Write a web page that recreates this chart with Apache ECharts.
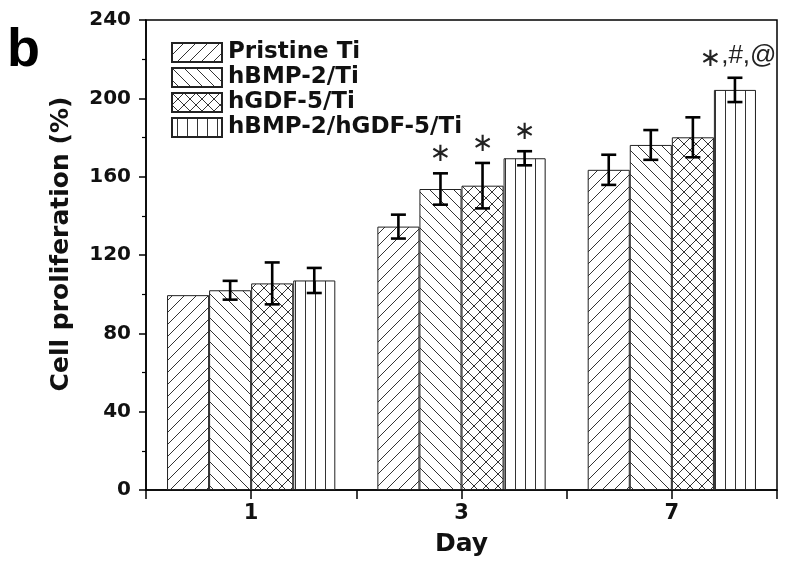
<!DOCTYPE html>
<html>
<head>
<meta charset="utf-8">
<script src="https://cdn.jsdelivr.net/npm/echarts@6/dist/echarts.min.js"></script>
<style>html,body{margin:0;padding:0;background:#fff}#c{width:786px;height:568px}</style>
</head>
<body>
<div id="c"></div>
<script>
// ---- data ----
const days = ['1', '3', '7'];
const groups = ['Pristine Ti', 'hBMP-2/Ti', 'hGDF-5/Ti', 'hBMP-2/hGDF-5/Ti'];
const pristine = [99.5, 134.5, 163.5];
const hbmp = [102, 153.7, 176.2];
const hgdf = [105.5, 155.4, 180.1];
const combo = [107, 169.4, 204.3];
const pristineErr = [0, 6.1, 7.7];
const hbmpErr = [4.8, 8.0, 7.6];
const hgdfErr = [10.7, 11.6, 10.2];
const comboErr = [6.4, 3.6, 6.2];
const pristineNote = ['', '', ''];
const hbmpNote = ['', '*', ''];
const hgdfNote = ['', '*', ''];
const comboNote = ['', '*', '*,#,@'];
const yTicks = [0, 40, 80, 120, 160, 200, 240];

const means = [pristine, hbmp, hgdf, combo];
const errs = [pristineErr, hbmpErr, hgdfErr, comboErr];
const notes = [pristineNote, hbmpNote, hgdfNote, comboNote];

// ---- hatch patterns ----
function makePattern(kind) {
  const s = kind === 'vert' ? 10 : 12;
  const c = document.createElement('canvas');
  c.width = s; c.height = s;
  const g = c.getContext('2d');
  g.fillStyle = '#fff';
  g.fillRect(0, 0, s, s);
  g.strokeStyle = '#333';
  g.lineWidth = 1;
  function fwd() {
    g.beginPath();
    g.moveTo(0, s); g.lineTo(s, 0);
    g.moveTo(-2, 2); g.lineTo(2, -2);
    g.moveTo(s - 2, s + 2); g.lineTo(s + 2, s - 2);
    g.stroke();
  }
  function back() {
    g.beginPath();
    g.moveTo(0, 0); g.lineTo(s, s);
    g.moveTo(-2, s - 2); g.lineTo(2, s + 2);
    g.moveTo(s - 2, -2); g.lineTo(s + 2, 2);
    g.stroke();
  }
  if (kind === 'fwd') fwd();
  else if (kind === 'back') back();
  else if (kind === 'cross') { fwd(); back(); }
  else if (kind === 'vert') {
    g.beginPath(); g.moveTo(s / 2 + 0.5, 0); g.lineTo(s / 2 + 0.5, s); g.stroke();
  }
  return { image: c, repeat: 'repeat' };
}
const patterns = [makePattern('fwd'), makePattern('back'), makePattern('cross'), makePattern('vert')];

const FONT = 'DejaVu Sans';

const barSeries = groups.map((name, s) => ({
  name: name,
  type: 'bar',
  data: means[s],
  barGap: 0,
  barCategoryGap: '20%',
  itemStyle: { color: patterns[s], borderColor: '#222', borderWidth: 1 },
  emphasis: { disabled: true },
  z: 2
}));

const errSeries = groups.map((name, s) => ({
  type: 'custom',
  xAxisIndex: 0,
  yAxisIndex: 0,
  z: 5,
  silent: true,
  data: days.map((d, i) => [i, means[s][i], errs[s][i]]),
  encode: { x: 0, y: 1 },
  renderItem: function (params, api) {
    const i = api.value(0);
    const m = api.value(1);
    const e = api.value(2);
    const center = api.coord([i, m]);
    const band = api.size([1, 0])[0];
    const bw = band * 0.8 / 4;
    const x = center[0] - band * 0.4 + bw * (s + 0.5);
    const children = [];
    const top = api.coord([i, m + e])[1];
    if (e > 0) {
      const bot = api.coord([i, m - e])[1];
      const cap = 7.5;
      const st = { stroke: '#000', lineWidth: 2.6 };
      children.push({ type: 'line', shape: { x1: x, y1: top, x2: x, y2: bot }, style: st });
      children.push({ type: 'line', shape: { x1: x - cap, y1: top, x2: x + cap, y2: top }, style: st });
      children.push({ type: 'line', shape: { x1: x - cap, y1: bot, x2: x + cap, y2: bot }, style: st });
    }
    const note = notes[s][params.dataIndex];
    if (note) {
      let txt;
      if (note === '*') txt = '{s|\u2217}';
      else txt = '{s|\u2217}{t|' + note.slice(1) + '}';
      children.push({
        type: 'text',
        style: {
          x: x + (note === '*' ? 0 : 3),
          y: top - 19,
          text: txt,
          align: 'center',
          verticalAlign: 'middle',
          fill: '#000',
          rich: {
            s: { fontFamily: FONT, fontSize: 26, fill: '#222' },
            t: { fontFamily: 'Liberation Sans', fontSize: 26, fill: '#222', padding: [0, 0, 6, 0] }
          }
        }
      });
    }
    return { type: 'group', children: children };
  }
}));

const chart = echarts.init(document.getElementById('c'), null, { renderer: 'canvas' });
chart.setOption({
  animation: false,
  backgroundColor: '#fff',
  grid: { left: 146, right: 9, top: 20, bottom: 78, show: true, borderColor: '#000', borderWidth: 1.5, backgroundColor: 'transparent' },
  legend: {
    data: groups,
    orient: 'vertical',
    left: 166,
    top: 36,
    itemWidth: 50,
    itemHeight: 19,
    itemGap: 2,
    icon: 'rect',
    selectedMode: false,
    textStyle: { fontFamily: FONT, fontWeight: 'bold', fontSize: 23, color: '#111', padding: [0, 0, 0, 1] }
  },
  xAxis: [
    {
      type: 'category',
      data: days,
      position: 'bottom',
      axisLine: { show: true, lineStyle: { color: '#000', width: 1.5 } },
      axisTick: { show: true, alignWithLabel: true, length: 9, lineStyle: { color: '#000', width: 1.5 } },
      axisLabel: { fontFamily: FONT, fontWeight: 'bold', fontSize: 21, color: '#111', margin: 13 },
      name: 'Day',
      nameLocation: 'middle',
      nameGap: 42,
      nameTextStyle: { fontFamily: FONT, fontWeight: 'bold', fontSize: 25, color: '#111' }
    },
    {
      type: 'category',
      data: ['', '', ''],
      position: 'bottom',
      axisLine: { show: false },
      axisTick: { show: true, length: 9, lineStyle: { color: '#000', width: 1.5 } },
      axisLabel: { show: false }
    }
  ],
  yAxis: {
    type: 'value',
    min: yTicks[0],
    max: yTicks[yTicks.length - 1],
    interval: 40,
    axisLine: { show: true, lineStyle: { color: '#000', width: 1.5 } },
    axisTick: { show: true, length: 7, lineStyle: { color: '#000', width: 1.5 } },
    minorTick: { show: true, splitNumber: 2, length: 4, lineStyle: { color: '#000', width: 1.2 } },
    splitLine: { show: false },
    axisLabel: { fontFamily: FONT, fontWeight: 'bold', fontSize: 20, color: '#111', margin: 15 },
    name: 'Cell proliferation (%)',
    nameLocation: 'middle',
    nameRotate: 90,
    nameGap: 72,
    nameTextStyle: { fontFamily: FONT, fontWeight: 'bold', fontSize: 25, color: '#111', padding: [0, 0, 0, 22] }
  },
  graphic: [
    { type: 'text', left: 7, top: 24, style: { text: 'b', fontFamily: 'Liberation Sans', fontWeight: 'bold', fontSize: 54, fill: '#000' } }
  ],
  series: barSeries.concat(errSeries)
});
</script>
</body>
</html>
